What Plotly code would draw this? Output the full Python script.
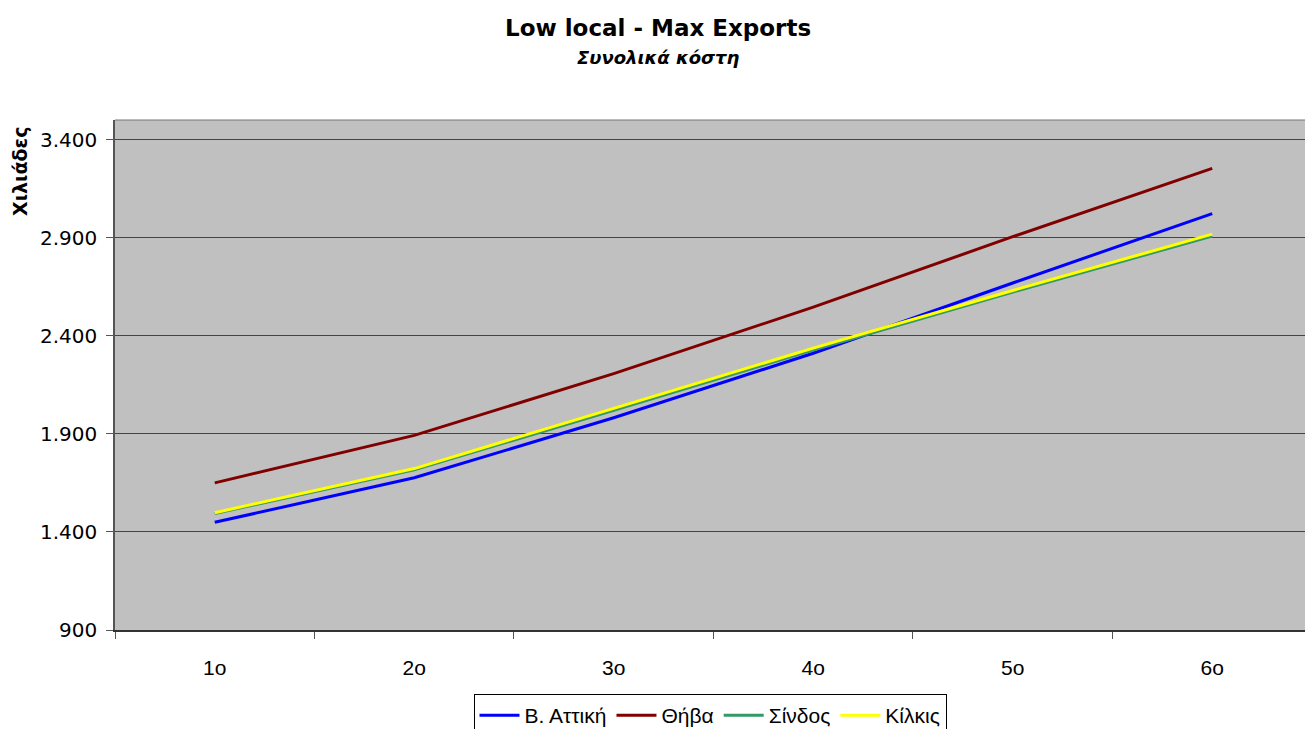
import plotly.graph_objects as go

# Period labels on the category axis
periods = ["1o", "2o", "3o", "4o", "5o", "6o"]

# Total cost per location (in thousands)
v_attiki = [1449, 1676, 1982, 2311, 2669, 3023]
thiva = [1650, 1892, 2207, 2546, 2905, 3253]
sindos = [1494, 1717, 2020, 2327, 2623, 2908]
kilkis = [1498, 1723, 2030, 2337, 2631, 2918]

y_ticks = [900, 1400, 1900, 2400, 2900, 3400]

series = [
    ("Β. Αττική", v_attiki, "#0000FF"),
    ("Θήβα", thiva, "#800000"),
    ("Σίνδος", sindos, "#339966"),
    ("Κίλκις", kilkis, "#FFFF00"),
]

W, H = 1305, 729
L, T, B = 115, 120, 99
PW, PH = W - L, H - T - B

fig = go.Figure()
for name, vals, color in series:
    fig.add_trace(go.Scatter(
        x=periods, y=vals, name=name, mode="lines",
        line=dict(color=color, width=3),
    ))

fig.update_layout(
    width=W, height=H,
    margin=dict(l=L, r=0, t=T, b=B),
    paper_bgcolor="white",
    plot_bgcolor="#C0C0C0",
    separators=",.",
    font=dict(family="DejaVu Sans", color="black"),
    showlegend=True,
    legend=dict(
        orientation="h", xref="paper", x=0.5, xanchor="center",
        yref="container", y=1 - 694 / H, yanchor="top",
        font=dict(family="Liberation Sans", size=21),
        bordercolor="black", borderwidth=1, bgcolor="white",
        itemwidth=40, tracegroupgap=0,
    ),
    annotations=[
        dict(text="<b>Low local - Max Exports</b>", xref="paper", yref="paper",
             x=(658 - L) / PW, y=1.0 + (T - 28) / PH, xanchor="center", yanchor="middle",
             showarrow=False, font=dict(family="DejaVu Sans", size=23)),
        dict(text="<b><i>Συνολικά κόστη</i></b>", xref="paper", yref="paper",
             x=(658 - L) / PW, y=1.0 + (T - 57) / PH, xanchor="center", yanchor="middle",
             showarrow=False, font=dict(family="DejaVu Sans", size=18)),
        dict(text="<b>Χιλιάδες</b>", xref="paper", yref="paper",
             x=(20 - L) / PW, y=(H - B - 172) / PH, xanchor="center", yanchor="middle",
             textangle=-90, showarrow=False,
             font=dict(family="DejaVu Sans", size=19)),
    ],
)

fig.update_xaxes(
    type="category", range=[-0.5, 5.465],
    tickson="boundaries", ticks="outside", ticklen=7, tickcolor="#555555",
    showline=True, linecolor="#333333", linewidth=1.5,
    showgrid=False, tickfont=dict(family="Liberation Sans", size=21),
    ticklabelstandoff=18,
)
fig.update_yaxes(
    range=[900, 3500], tickvals=y_ticks, tickformat=",d",
    ticks="outside", ticklen=7, tickcolor="#555555",
    showline=True, linecolor="#555555", linewidth=1.5,
    showgrid=True, gridcolor="#444444", gridwidth=1,
    zeroline=False, tickfont=dict(family="DejaVu Sans", size=20),
    ticklabelstandoff=5,
)

# thin frame line along the top of the plotting area
fig.add_shape(type="line", xref="paper", yref="paper", x0=0, x1=1, y0=1, y1=1,
              line=dict(color="#777777", width=1))

fig.write_html("out.html")
